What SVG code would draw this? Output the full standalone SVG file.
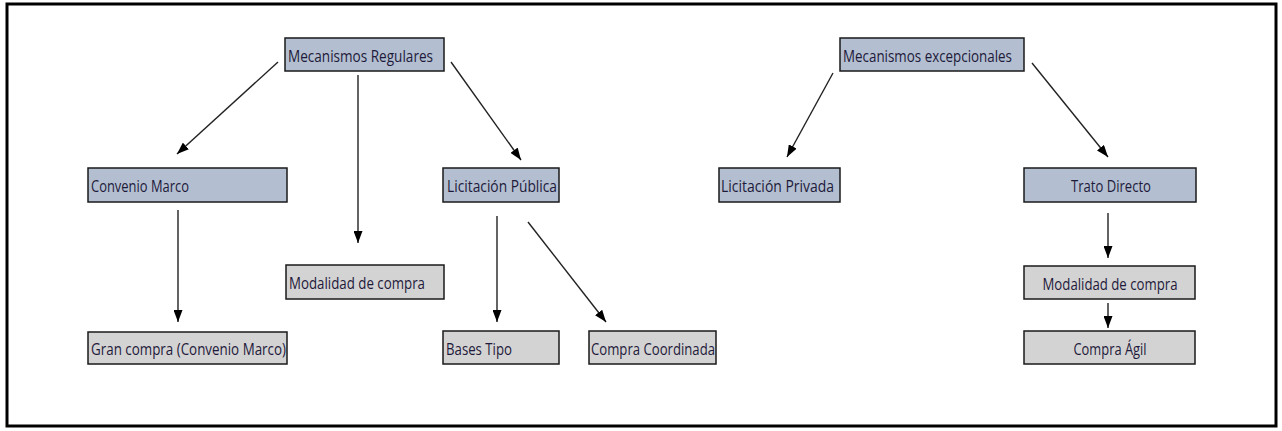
<svg xmlns="http://www.w3.org/2000/svg" width="1282" height="431" viewBox="0 0 1282 431">
<style>
.blue{fill:#b3bfd1;stroke:#1a1a1a;stroke-width:1.5}
.gray{fill:#d4d3d4;stroke:#1a1a1a;stroke-width:1.5}
.t{font-family:"Open Sans","Liberation Sans",sans-serif;font-size:15.5px;fill:#1e1a3a}
.c{text-anchor:middle}
.ln{stroke:#222;stroke-width:1.4;fill:none;marker-end:url(#ah)}
</style>
<defs>
<marker id="ah" markerUnits="userSpaceOnUse" markerWidth="12" markerHeight="9" refX="12" refY="4.5" orient="auto">
<path d="M0,0 L12,4.5 L0,9 z" fill="#000"/>
</marker>
</defs>
<rect x="0" y="0" width="1282" height="431" fill="#fff"/>
<rect x="7" y="4" width="1269" height="422" fill="none" stroke="#000" stroke-width="3"/>
<g id="connectors">
<line class="ln" x1="278" y1="62" x2="177" y2="154"/>
<line class="ln" x1="358" y1="75" x2="358" y2="243"/>
<line class="ln" x1="451" y1="62" x2="521" y2="160"/>
<line class="ln" x1="178" y1="210" x2="178" y2="322"/>
<line class="ln" x1="497" y1="216" x2="497" y2="322"/>
<line class="ln" x1="528" y1="222" x2="606" y2="322"/>
<line class="ln" x1="833" y1="73" x2="787" y2="157"/>
<line class="ln" x1="1032" y1="63" x2="1108" y2="157"/>
<line class="ln" x1="1108" y1="213" x2="1108" y2="258"/>
<line class="ln" x1="1108" y1="303" x2="1108" y2="328"/>
</g>
<g id="mecanismos-regulares">
<rect class="blue" x="285" y="38" width="159" height="33"/>
<text class="t" x="288" y="62" textLength="145" lengthAdjust="spacingAndGlyphs">Mecanismos Regulares</text>
</g>
<g id="convenio-marco">
<rect class="blue" x="88" y="168" width="199" height="34"/>
<text class="t" x="91" y="192" textLength="98" lengthAdjust="spacingAndGlyphs">Convenio Marco</text>
</g>
<g id="modalidad-compra-1">
<rect class="gray" x="286" y="265" width="158" height="34"/>
<text class="t" x="289" y="289" textLength="136" lengthAdjust="spacingAndGlyphs">Modalidad de compra</text>
</g>
<g id="gran-compra">
<rect class="gray" x="88" y="332" width="199" height="32"/>
<text class="t" x="91" y="355" textLength="195" lengthAdjust="spacingAndGlyphs">Gran compra (Convenio Marco)</text>
</g>
<g id="licitacion-publica">
<rect class="blue" x="443" y="168" width="116" height="34"/>
<text class="t" x="447" y="192" textLength="110" lengthAdjust="spacingAndGlyphs">Licitación Pública</text>
</g>
<g id="bases-tipo">
<rect class="gray" x="443" y="331" width="116" height="33"/>
<text class="t" x="446" y="355" textLength="66" lengthAdjust="spacingAndGlyphs">Bases Tipo</text>
</g>
<g id="compra-coordinada">
<rect class="gray" x="589" y="331" width="127" height="33"/>
<text class="t" x="591" y="355" textLength="124" lengthAdjust="spacingAndGlyphs">Compra Coordinada</text>
</g>
<g id="mecanismos-excepcionales">
<rect class="blue" x="840" y="38" width="184" height="33"/>
<text class="t" x="843" y="62" textLength="169" lengthAdjust="spacingAndGlyphs">Mecanismos excepcionales</text>
</g>
<g id="licitacion-privada">
<rect class="blue" x="719" y="168" width="121" height="34"/>
<text class="t" x="721" y="192" textLength="113" lengthAdjust="spacingAndGlyphs">Licitación Privada</text>
</g>
<g id="trato-directo">
<rect class="blue" x="1024" y="168" width="172" height="34"/>
<text class="t c" x="1111" y="192" textLength="80" lengthAdjust="spacingAndGlyphs">Trato Directo</text>
</g>
<g id="modalidad-compra-2">
<rect class="gray" x="1024" y="266" width="171" height="33"/>
<text class="t c" x="1110" y="290" textLength="135" lengthAdjust="spacingAndGlyphs">Modalidad de compra</text>
</g>
<g id="compra-agil">
<rect class="gray" x="1024" y="331" width="171" height="33"/>
<text class="t c" x="1110" y="355" textLength="73" lengthAdjust="spacingAndGlyphs">Compra Ágil</text>
</g>
</svg>
